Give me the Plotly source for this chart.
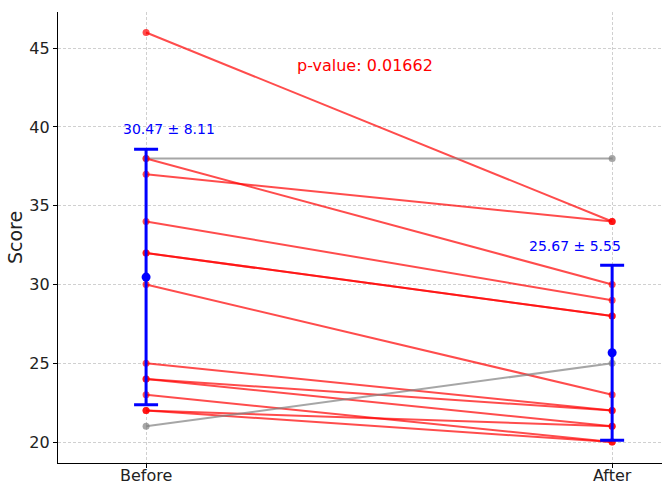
import plotly.graph_objects as go

categories = ["Before", "After"]
before = [46, 38, 38, 37, 34, 32, 32, 30, 25, 24, 24, 23, 22, 22, 21]
after = [34, 38, 30, 34, 29, 28, 28, 23, 22, 22, 21, 20, 21, 20, 25]
means = [30.47, 25.67]
stds = [8.11, 5.55]
p_value = 0.01662

RED = "rgba(255,0,0,0.7)"
GRAY = "rgba(128,128,128,0.7)"

fig = go.Figure()
for b, a in zip(before, after):
    col = GRAY if a >= b else RED
    fig.add_trace(go.Scatter(
        x=[0, 1], y=[b, a], mode="lines+markers",
        line=dict(color=col, width=2), marker=dict(color=col, size=7),
        showlegend=False, hoverinfo="skip"))

fig.add_trace(go.Scatter(
    x=[0, 1], y=means, mode="markers",
    marker=dict(color="blue", size=9),
    error_y=dict(type="data", array=stds, color="blue", thickness=3, width=12),
    showlegend=False))

font = "DejaVu Sans, sans-serif"
labels = [f"{m:.2f} ± {s:.2f}" for m, s in zip(means, stds)]
fig.add_annotation(x=0.05, y=means[0] + stds[0] + 1.3, text=labels[0], showarrow=False,
                   font=dict(color="blue", size=14, family=font))
fig.add_annotation(x=0.92, y=means[1] + stds[1] + 1.2, text=labels[1], showarrow=False,
                   font=dict(color="blue", size=14, family=font))
fig.add_annotation(x=0.47, y=43.9, text=f"p-value: {p_value:.5f}", showarrow=False,
                   font=dict(color="red", size=16, family=font))

grid = dict(showgrid=True, gridcolor="#d0d0d0", griddash="3px,2px", gridwidth=0.8,
            showline=True, linecolor="black", linewidth=1.2,
            ticks="outside", ticklen=4, tickcolor="black", zeroline=False,
            automargin=False)

fig.update_layout(
    width=663, height=485,
    margin=dict(l=58, r=1, t=12, b=22),
    plot_bgcolor="white", paper_bgcolor="white",
    font=dict(family=font, size=16, color="#222"),
    xaxis=dict(range=[-0.189, 1.107], tickvals=[0, 1], ticktext=categories,
               ticklabelstandoff=-6, **grid),
    yaxis=dict(range=[18.67, 47.3], tickvals=[20, 25, 30, 35, 40, 45],
               title=dict(text="Score", standoff=1), **grid),
)

fig.write_html("out.html", config={"displayModeBar": False},
               post_script="document.body.style.margin='0';document.body.style.overflow='hidden';")
